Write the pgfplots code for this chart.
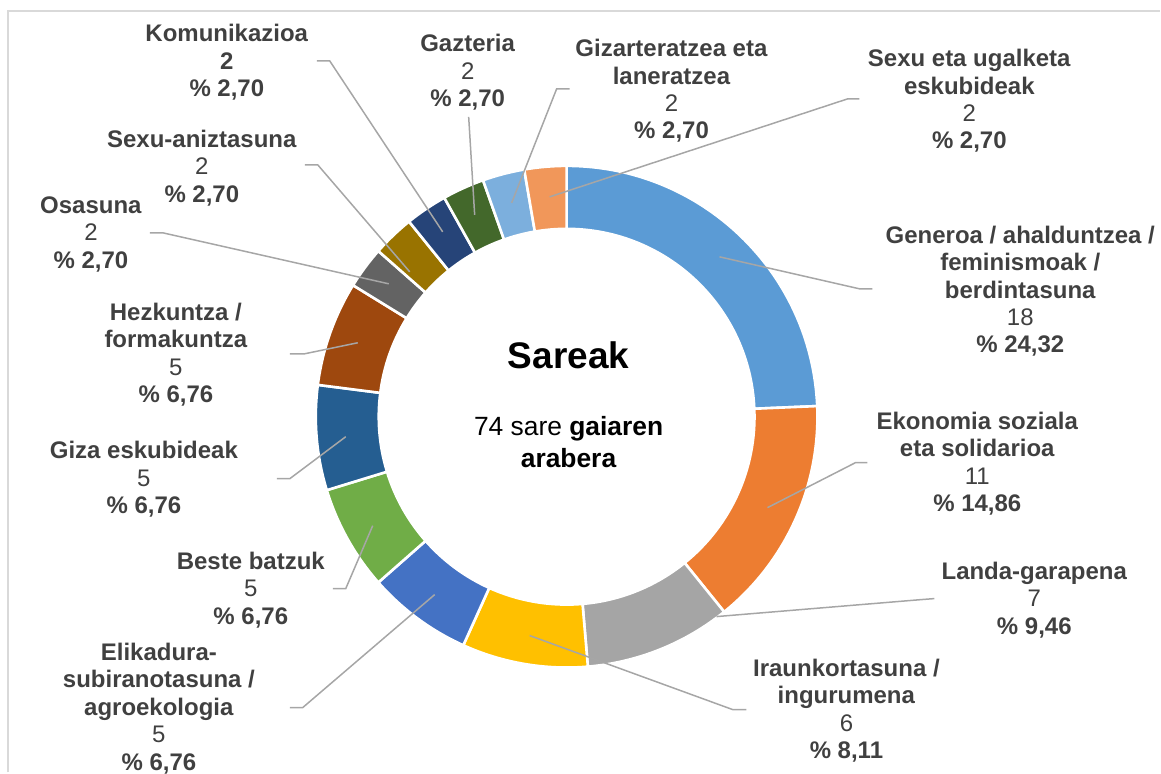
\documentclass[border=0pt]{standalone}
\usepackage{fontspec}
\setmainfont{Liberation Sans}
\usepackage{pgfplots}
\usepackage{pgfplotstable}
\pgfplotsset{compat=1.18}

\definecolor{cGen}{HTML}{5B9BD5}
\definecolor{cEko}{HTML}{ED7D31}
\definecolor{cLan}{HTML}{A5A5A5}
\definecolor{cIra}{HTML}{FFC000}
\definecolor{cEli}{HTML}{4472C4}
\definecolor{cBes}{HTML}{70AD47}
\definecolor{cGiz}{HTML}{255E91}
\definecolor{cHez}{HTML}{9E480E}
\definecolor{cOsa}{HTML}{636363}
\definecolor{cSan}{HTML}{997300}
\definecolor{cKom}{HTML}{264478}
\definecolor{cGaz}{HTML}{43682B}
\definecolor{cGzl}{HTML}{7CAFDD}
\definecolor{cSex}{HTML}{F1975A}
\definecolor{lbl}{HTML}{404040}
\definecolor{leader}{HTML}{A6A6A6}
\definecolor{frame}{HTML}{D9D9D9}

% sareak gaiaren arabera (clockwise from the top)
\pgfplotstableread{
value color
18 cGen
11 cEko
7  cLan
6  cIra
5  cEli
5  cBes
5  cGiz
5  cHez
2  cOsa
2  cSan
2  cKom
2  cGaz
2  cGzl
2  cSex
}\sareak

\newcommand\lf{\fontsize{12}{13.7}\selectfont}

\begin{document}
\begin{tikzpicture}
\begin{axis}[
    x=0.5pt, y=0.5pt,
    xmin=0, xmax=1161, ymin=0, ymax=773,
    y dir=reverse,
    hide axis,
    clip=false,
]
\path (axis cs:0,0) rectangle (axis cs:1161,773);
\draw[frame, line width=0.8pt] (axis cs:8,773) -- (axis cs:8,11) -- (axis cs:1161,11);

% donut slices
\pgfplotstablegetrowsof{\sareak}
\pgfmathtruncatemacro\nrows{\pgfplotsretval-1}
\gdef\cum{0}
\pgfplotsforeachungrouped \i in {0,...,\nrows}{
  \pgfplotstablegetelem{\i}{value}\of\sareak \let\sv\pgfplotsretval
  \pgfplotstablegetelem{\i}{color}\of\sareak \let\sc\pgfplotsretval
  \pgfmathsetmacro\aone{90-360*(\cum/74)}
  \pgfmathsetmacro\cumnew{\cum+\sv}
  \pgfmathsetmacro\atwo{90-360*(\cumnew/74)}
  \global\let\cum\cumnew
  \edef\temp{\noexpand\fill[\sc, draw=white, line width=1.3pt]
    (axis cs:567,417) ++(\aone:125.5pt)
    arc[start angle=\aone, end angle=\atwo, radius=125.5pt]
    -- ++(\atwo+180:31.5pt)
    arc[start angle=\atwo, end angle=\aone, radius=94pt] -- cycle;}
  \temp
}

% leader lines
\begin{scope}[leader, line width=0.75pt]
\draw (axis cs:317,61) -- (axis cs:330,61) -- (axis cs:443,232);
\draw (axis cs:305,165) -- (axis cs:318,165) -- (axis cs:410,272);
\draw (axis cs:150,233) -- (axis cs:163,233) -- (axis cs:389,284);
\draw (axis cs:290,354) -- (axis cs:305,354) -- (axis cs:358,343);
\draw (axis cs:277,479) -- (axis cs:290,479) -- (axis cs:346,437);
\draw (axis cs:333,589) -- (axis cs:346,589) -- (axis cs:373,526);
\draw (axis cs:290,708) -- (axis cs:303,708) -- (axis cs:435,595);
\draw (axis cs:747,710) -- (axis cs:733,710) -- (axis cs:530,636);
\draw (axis cs:935,599) -- (axis cs:922,600) -- (axis cs:717,617);
\draw (axis cs:868,463) -- (axis cs:856,463) -- (axis cs:768,508);
\draw (axis cs:873,289) -- (axis cs:860,289) -- (axis cs:720,257);
\draw (axis cs:860,99) -- (axis cs:848,99) -- (axis cs:550,197);
\draw (axis cs:570,89) -- (axis cs:557,89) -- (axis cs:512,203);
\draw (axis cs:469,117) -- (axis cs:475,215);
\end{scope}

% labels
\begin{scope}[every node/.style={align=center, text=lbl, font=\lf, inner sep=0pt}]
\node at (axis cs:227,62.5) {\textbf{Komunikazioa}\\\textbf{2}\\\textbf{\% 2,70}};
\node at (axis cs:202,168) {\textbf{Sexu-aniztasuna}\\2\\\textbf{\% 2,70}};
\node at (axis cs:91,234.5) {\textbf{Osasuna}\\2\\\textbf{\% 2,70}};
\node at (axis cs:176,355) {\textbf{Hezkuntza /}\\\textbf{formakuntza}\\5\\\textbf{\% 6,76}};
\node at (axis cs:144,479.5) {\textbf{Giza eskubideak}\\5\\\textbf{\% 6,76}};
\node at (axis cs:251,590.5) {\textbf{Beste batzuk}\\5\\\textbf{\% 6,76}};
\node at (axis cs:159,709) {\textbf{Elikadura-}\\\textbf{subiranotasuna /}\\\textbf{agroekologia}\\5\\\textbf{\% 6,76}};
\node at (axis cs:847,711) {\textbf{Iraunkortasuna /}\\\textbf{ingurumena}\\6\\\textbf{\% 8,11}};
\node at (axis cs:1035,600.5) {\textbf{Landa-garapena}\\7\\\textbf{\% 9,46}};
\node at (axis cs:978,464) {\textbf{Ekonomia soziala}\\\textbf{eta solidarioa}\\11\\\textbf{\% 14,86}};
\node at (axis cs:1021,291.5) {\textbf{Generoa / ahalduntzea /}\\\textbf{feminismoak /}\\\textbf{berdintasuna}\\18\\\textbf{\% 24,32}};
\node at (axis cs:970,101) {\textbf{Sexu eta ugalketa}\\\textbf{eskubideak}\\2\\\textbf{\% 2,70}};
\node at (axis cs:672,91) {\textbf{Gizarteratzea eta}\\\textbf{laneratzea}\\2\\\textbf{\% 2,70}};
\node at (axis cs:468,72.5) {\textbf{Gazteria}\\2\\\textbf{\% 2,70}};
\end{scope}

% centre title
\node[font=\fontsize{18.5}{21}\selectfont\bfseries, inner sep=0pt] at (axis cs:569,356) {Sareak};
\node[align=center, font=\fontsize{13.2}{15.8}\selectfont, inner sep=0pt] at (axis cs:569,442.5) {74 sare \textbf{gaiaren}\\\textbf{arabera}};
\end{axis}
\end{tikzpicture}
\end{document}
